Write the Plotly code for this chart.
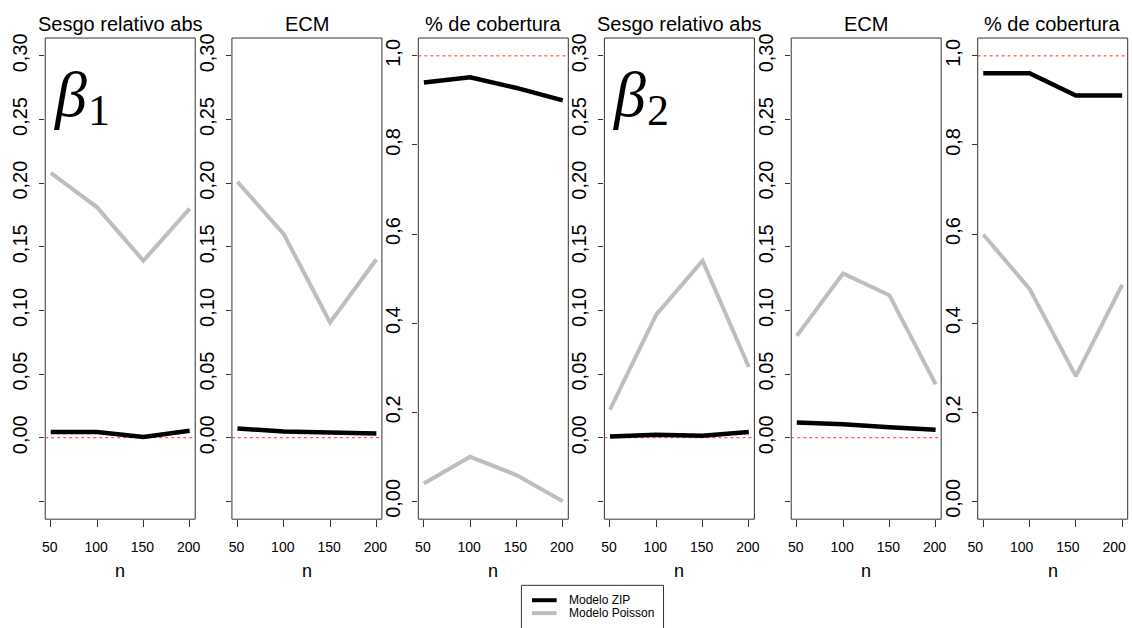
import plotly.graph_objects as go

# ---------------- data ----------------
n_vals = [50, 100, 150, 200]
panel_titles = ["Sesgo relativo abs", "ECM", "% de cobertura",
                "Sesgo relativo abs", "ECM", "% de cobertura"]
param_labels = ["β", "1", "β", "2"]

# beta1
b1_sesgo_zip = [0.0044, 0.0044, 0.0005, 0.0054]
b1_sesgo_poi = [0.208, 0.181, 0.139, 0.180]
b1_ecm_zip = [0.0072, 0.0049, 0.0040, 0.0034]
b1_ecm_poi = [0.201, 0.160, 0.0905, 0.140]
b1_cob_zip = [0.940, 0.952, 0.928, 0.900]
b1_cob_poi = [0.040, 0.100, 0.059, 0.000]
# beta2
b2_sesgo_zip = [0.0010, 0.0023, 0.0016, 0.0044]
b2_sesgo_poi = [0.022, 0.0967, 0.139, 0.0555]
b2_ecm_zip = [0.0120, 0.0106, 0.0082, 0.0062]
b2_ecm_poi = [0.080, 0.129, 0.112, 0.042]
b2_cob_zip = [0.961, 0.961, 0.911, 0.911]
b2_cob_poi = [0.599, 0.477, 0.281, 0.486]

zip_series = [b1_sesgo_zip, b1_ecm_zip, b1_cob_zip, b2_sesgo_zip, b2_ecm_zip, b2_cob_zip]
poi_series = [b1_sesgo_poi, b1_ecm_poi, b1_cob_poi, b2_sesgo_poi, b2_ecm_poi, b2_cob_poi]
ref_lines = [0.0, 0.0, 1.0, 0.0, 0.0, 1.0]

small_ticks = [-0.05, 0.0, 0.05, 0.10, 0.15, 0.20, 0.25, 0.30]
small_labels = ["", "0,00", "0,05", "0,10", "0,15", "0,20", "0,25", "0,30"]
cob_ticks = [0.0, 0.2, 0.4, 0.6, 0.8, 1.0]
cob_labels = ["0,00", "0,2", "0,4", "0,6", "0,8", "1,0"]
legend_names = ["Modelo ZIP", "Modelo Poisson"]

# ---------------- layout geometry ----------------
W, H = 1132, 628


def fx(px):
    return px / W


def fy(py):
    return (H - py) / H


panel_left = [35.7, 224.9, 413.8, 602.4, 791.7, 980.7]
panel_w = 152.0
top_px, bot_px = 33.3, 518.3
ydom = [fy(bot_px), fy(top_px)]

FONT = "Liberation Sans, Arial, sans-serif"
BLACK = "#000000"
GRAY = "#BEBEBE"
AX = "#333333"

fig = go.Figure()
shapes = []
annotations = []

for i in range(6):
    k = "" if i == 0 else str(i + 1)
    xa, ya = "x" + k, "y" + k
    left = panel_left[i]
    right_px = left + panel_w
    x0 = fx(left)
    x1 = min(fx(right_px), 1.0)
    xr = [44, 206]
    box_right = 1.0
    last = fx(right_px) > 1.0
    if last:
        vis_w = W - left
        frac = vis_w / panel_w
        xr = [44, 44 + 162 * frac]
        box_right = panel_w / vis_w
    cob = i in (2, 5)
    yr = [-0.04, 1.04] if cob else [-0.064, 0.314]

    fig.add_trace(go.Scatter(x=n_vals, y=zip_series[i], mode="lines",
                             line=dict(color=BLACK, width=4.5),
                             xaxis=xa, yaxis=ya, showlegend=False,
                             name=legend_names[0], cliponaxis=False))
    fig.add_trace(go.Scatter(x=n_vals, y=poi_series[i], mode="lines",
                             line=dict(color=GRAY, width=4),
                             xaxis=xa, yaxis=ya, showlegend=False,
                             name=legend_names[1], cliponaxis=False))

    fig.layout["xaxis" + k] = dict(
        domain=[x0, x1], range=xr, anchor=ya,
        tickvals=n_vals, ticktext=[str(v) for v in n_vals],
        ticks="outside", ticklen=7, tickcolor=AX, tickwidth=1,
        tickfont=dict(family=FONT, size=14, color=BLACK),
        ticklabelstandoff=8, ticklabeloverflow="allow",
        ticklabelshift=-8 if last else -1,
        showgrid=False, zeroline=False, showline=False, fixedrange=True)
    fig.layout["yaxis" + k] = dict(
        domain=ydom, range=yr, anchor=xa,
        tickvals=cob_ticks if cob else small_ticks,
        ticktext=cob_labels if cob else small_labels,
        ticks="outside", ticklen=5, tickcolor=AX, tickwidth=1,
        tickangle=-90,
        tickfont=dict(family=FONT, size=20, color=BLACK),
        ticklabelstandoff=4, ticklabeloverflow="allow",
        showgrid=False, zeroline=False, showline=False, fixedrange=True)

    # panel box
    shapes.append(dict(type="rect", xref=xa + " domain", yref=ya + " domain",
                       x0=0, x1=box_right, y0=0, y1=1,
                       line=dict(color=AX, width=1), fillcolor="rgba(0,0,0,0)"))
    # reference line
    shapes.append(dict(type="line", xref=xa + " domain", yref=ya,
                       x0=0, x1=1, y0=ref_lines[i], y1=ref_lines[i],
                       line=dict(color="#FF3333", width=1, dash="dot"), layer="below"))

    cx = fx(left + panel_w / 2)
    annotations.append(dict(text=panel_titles[i], xref="paper", yref="paper",
                            x=cx, y=fy(19.5), xanchor="center", yanchor="middle",
                            showarrow=False, font=dict(family=FONT, size=20, color=BLACK)))
    annotations.append(dict(text="n", xref="paper", yref="paper",
                            x=cx, y=fy(571), xanchor="center", yanchor="middle",
                            showarrow=False, font=dict(family=FONT, size=18, color=BLACK)))

# beta labels
for j, px in enumerate([panel_left[0], panel_left[3]]):
    annotations.append(dict(text="<i>" + param_labels[2 * j] + "</i>", xref="paper", yref="paper",
                            x=fx(px + 6), y=fy(90), xanchor="left", yanchor="middle",
                            showarrow=False,
                            font=dict(family="Liberation Serif, serif", size=64, color=BLACK)))
    annotations.append(dict(text=param_labels[2 * j + 1], xref="paper", yref="paper",
                            x=fx(px + 41), y=fy(106), xanchor="left", yanchor="middle",
                            showarrow=False,
                            font=dict(family="Liberation Serif, serif", size=44, color=BLACK)))

# legend (manual)
lx0, lx1, ly_top = 518.3, 662.3, 585.0
shapes.append(dict(type="rect", xref="paper", yref="paper",
                   x0=fx(lx0), x1=fx(lx1), y0=-0.05, y1=fy(ly_top),
                   line=dict(color=AX, width=1), fillcolor="white"))
for j, (col, yy) in enumerate([(BLACK, 600), (GRAY, 613)]):
    shapes.append(dict(type="line", xref="paper", yref="paper",
                       x0=fx(529), x1=fx(554), y0=fy(yy), y1=fy(yy),
                       line=dict(color=col, width=4)))
    annotations.append(dict(text=legend_names[j], xref="paper", yref="paper",
                            x=fx(564), y=fy(yy), xanchor="left", yanchor="middle",
                            showarrow=False, font=dict(family=FONT, size=12, color=BLACK)))

fig.update_layout(width=W, height=H, margin=dict(l=0, r=0, t=0, b=0),
                  paper_bgcolor="white", plot_bgcolor="white",
                  shapes=shapes, annotations=annotations, showlegend=False)

fig.write_html("out.html",
               config={"displayModeBar": False, "staticPlot": True},
               post_script="document.body.style.margin='0';"
                           "document.body.style.overflow='hidden';")
